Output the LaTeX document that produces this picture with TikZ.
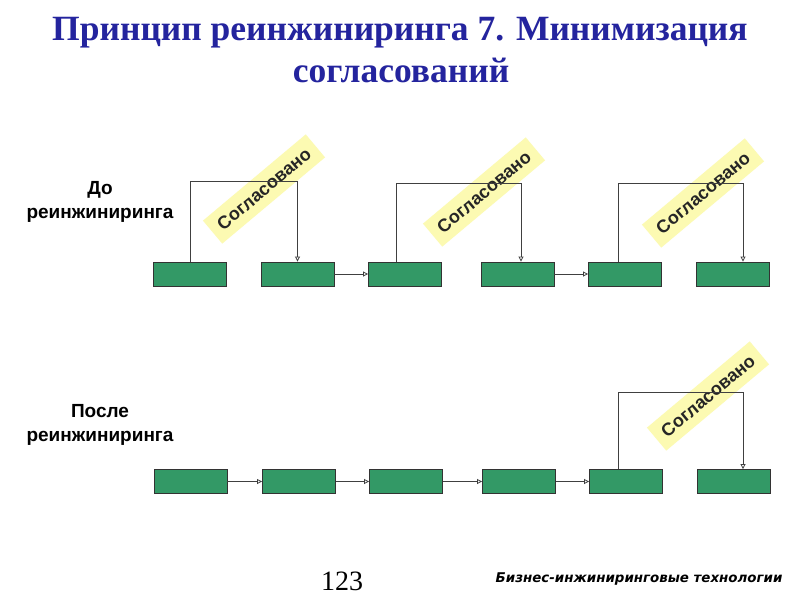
\documentclass[tikz,border=0pt]{standalone}
\usepackage{fontspec}
\setmainfont{Liberation Serif}
\setsansfont{Liberation Sans}
\newfontfamily\footfont{DejaVu Sans}
\usetikzlibrary{arrows.meta,positioning}
\definecolor{boxgreen}{RGB}{51,153,102}
\definecolor{titleblue}{RGB}{36,36,158}
\definecolor{notefill}{RGB}{252,250,178}
\tikzset{
  stage/.style={draw=black!80, fill=boxgreen, minimum width=73pt, minimum height=24pt, inner sep=0pt, line width=0.9pt},
  arrow/.style={-{Triangle[open,length=5pt,width=5pt]}, draw=black!75, line width=0.8pt},
  approved/.style={fill=notefill, text=black!85, font=\sffamily\bfseries\fontsize{18}{20}\selectfont, rotate=40, inner xsep=9pt, minimum height=30pt},
  rowlabel/.style={font=\sffamily\bfseries\fontsize{19}{24}\selectfont, align=center},
  heading/.style={font=\bfseries\fontsize{35.5}{40}\selectfont, text=titleblue, anchor=base}
}

\begin{document}
\begin{tikzpicture}[x=1pt,y=-1pt]
  \useasboundingbox (0,0) rectangle (800,600);
  \fill[white] (0,0) rectangle (800,600);

  \node[heading] (title1) at (400,40) {Принцип реинжиниринга 7. Минимизация};
  \node[heading] (title2) at (401,82) {согласований};

  \node[rowlabel] (before) at (100,202) {До\\реинжиниринга};
  \node[rowlabel] (after) at (100,425) {После\\реинжиниринга};

  \node[stage] (s1) at (190,274) {};
  \node[stage] (s2) at (297.5,274) {};
  \node[stage] (s3) at (405,274) {};
  \node[stage] (s4) at (517.5,274) {};
  \node[stage] (s5) at (625,274) {};
  \node[stage] (s6) at (733,274) {};

  \node[stage] (p1) at (190.5,481.5) {};
  \node[stage] (p2) at (299,481.5) {};
  \node[stage] (p3) at (406,481.5) {};
  \node[stage] (p4) at (519,481.5) {};
  \node[stage] (p5) at (626,481.5) {};
  \node[stage] (p6) at (734,481.5) {};

  \node[approved] (ok1) at (264,189) {Согласовано};
  \node[approved] (ok2) at (484,192) {Согласовано};
  \node[approved] (ok3) at (703,193) {Согласовано};
  \node[approved] (ok4) at (708,396) {Согласовано};

  \draw[arrow] (s1.north) -- ++(0,-80) -| (s2.north);
  \draw[arrow] ([xshift=-9pt]s3.north) -- ++(0,-78) -| ([xshift=3.5pt]s4.north);
  \draw[arrow] ([xshift=-7pt]s5.north) -- ++(0,-78) -| ([xshift=10pt]s6.north);
  \draw[arrow] (s2) -- (s3);
  \draw[arrow] (s4) -- (s5);

  \draw[arrow] (p1) -- (p2);
  \draw[arrow] (p2) -- (p3);
  \draw[arrow] (p3) -- (p4);
  \draw[arrow] (p4) -- (p5);
  \draw[arrow] ([xshift=-8pt]p5.north) -- ++(0,-77) -| ([xshift=9pt]p6.north);

  \node[anchor=base, font=\fontsize{28}{30}\selectfont] (page) at (342,590) {123};
  \node[anchor=base east, font=\footfont\bfseries\itshape\fontsize{13.4}{15}\selectfont] (brand) at (786,582) {Бизнес-инжиниринговые технологии};
\end{tikzpicture}
\end{document}
